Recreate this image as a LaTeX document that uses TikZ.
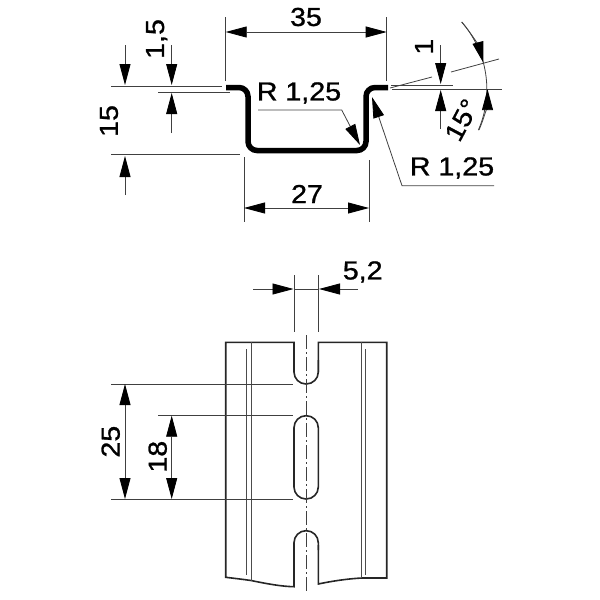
\documentclass[tikz,border=0pt]{standalone}
\usepackage{fontspec}
\newfontfamily\dimfont[FakeBold=1,FakeStretch=1.1]{Liberation Sans}
\usetikzlibrary{arrows.meta}
\tikzset{
  dimline/.style={draw=black!75,line width=0.8pt},
  hiddenline/.style={draw=black!70,line width=1pt},
  outline/.style={draw=black!85,line width=1.6pt},
  dimtext/.style={font=\dimfont\fontsize{26}{26}\selectfont,inner sep=0pt},
  >={Triangle[length=21pt,width=11pt,color=black]}
}
\begin{document}
\begin{tikzpicture}[x=1pt,y=-1pt]
\useasboundingbox (0,0) rectangle (600,600);
% Perfil
\draw[line width=5.5pt,rounded corners=9pt] (226,87.5) -- (248,87.5) -- (248,150.5) -- (366,150.5) -- (366,87.5) -- (388,87.5);
% Cota 35
\draw[dimline] (225.7,17) -- (225.7,81);
\draw[dimline] (386.7,17) -- (386.7,81);
\draw[dimline,<->] (225.7,32) -- (386.7,32);
\node[dimtext] (lbl35) at (306,17) {35};
% Cota 27
\draw[dimline] (244,157) -- (244,222);
\draw[dimline] (369,160) -- (369,222);
\draw[dimline,<->] (244,208) -- (369,208);
\node[dimtext] (lbl27) at (307,194) {27};
% Cota 15
\draw[dimline] (111,86) -- (222,86);
\draw[dimline] (111,154.5) -- (240,154.5);
\draw[dimline,->] (125,45) -- (125,85);
\draw[dimline,->] (125,195) -- (125,156);
\node[dimtext,rotate=90] (lbl15) at (109,121) {15};
% Cota 1,5
\draw[dimline] (158,92.5) -- (230,92.5);
\draw[dimline,->] (171.7,45) -- (171.7,85);
\draw[dimline,->] (171.7,133) -- (171.7,93);
\node[dimtext,rotate=90] (lbl15b) at (156.7,39) {1,5};
% Raios
\draw[dimline,->] (258,110) -- (341.7,110) -- (360,145);
\node[dimtext] (lblRa) at (299,93) {R 1,25};
\draw[dimline,->] (494,185.7) -- (402,185.7) -- (372,97);
\node[dimtext] (lblRb) at (452,168) {R 1,25};
% Cota 1 e angulo
\draw[dimline] (391,85) -- (453,85);
\draw[dimline] (392,89) -- (501.7,89);
\draw[dimline] (390,88) -- (432,77);
\draw[dimline] (451,72) -- (499,59);
\draw[dimline,->] (440.7,45) -- (440.7,84);
\draw[dimline,->] (440.7,129) -- (440.7,90);
\node[dimtext,rotate=90] (lbl1) at (424,46.7) {1};
\draw[dimline] (461.7,22) arc[start angle=41,end angle=-23.5,radius=102.5pt];
\draw[dimline,->] (461.7,22) arc[start angle=41,end angle=15,radius=102.5pt];
\draw[dimline,->] (479,130) arc[start angle=-23.5,end angle=0,radius=102.5pt];
\node[dimtext,rotate=62] (lbl15deg) at (461.7,120) {15°};
% Trilho
\draw[outline] (294,372) -- (294,342.3) -- (225.7,342.3) -- (225.7,577.3) .. controls (236,578.5) and (244,579.5) .. (251,580.5) .. controls (268,584) and (282,586.5) .. (294,586.7) -- (294,545);
\draw[outline] (318.3,372) -- (318.3,342.3) -- (386.7,342.3) -- (386.7,578) -- (361.7,578) .. controls (345,579) and (330,581.5) .. (318.3,584) -- (318.3,545);
\draw[outline,rounded corners=12pt] (294,360) -- (294,384) -- (318.3,384) -- (318.3,360);
\draw[outline,rounded corners=12pt] (294,415.7) rectangle (318.3,499);
\draw[outline,rounded corners=12pt] (294,550) -- (294,530.7) -- (318.3,530.7) -- (318.3,550);
% Dobras
\foreach \xa/\ya/\yb in {251/342.3/580.5,361.7/342.3/578}
  \draw[hiddenline] (\xa,\ya) -- (\xa,\yb);
\foreach \xa in {246.7,365}
  \draw[hiddenline] (\xa,349) -- (\xa,575);
% Linha de centro
\draw[dimline,dash pattern=on 14pt off 3pt on 2pt off 3pt] (306.7,335) -- (306.7,593);
% Cota 5,2
\draw[dimline] (294,275) -- (294,332);
\draw[dimline] (318.3,275) -- (318.3,332);
\draw[dimline] (294,289) -- (318.3,289);
\draw[dimline,->] (253,289) -- (293.5,289);
\draw[dimline,->] (358,289) -- (319,289);
\node[dimtext] (lbl52) at (362.7,272) {5,2};
% Cotas 25 e 18
\foreach \ya/\xa in {384/111,415.7/158,499/111}
  \draw[dimline] (\xa,\ya) -- (293,\ya);
\draw[dimline,<->] (125,384) -- (125,499);
\draw[dimline,<->] (171.7,415.7) -- (171.7,499);
\node[dimtext,rotate=90] (lbl25) at (110.7,441.7) {25};
\node[dimtext,rotate=90] (lbl18) at (157.7,456.7) {18};
\end{tikzpicture}
\end{document}
